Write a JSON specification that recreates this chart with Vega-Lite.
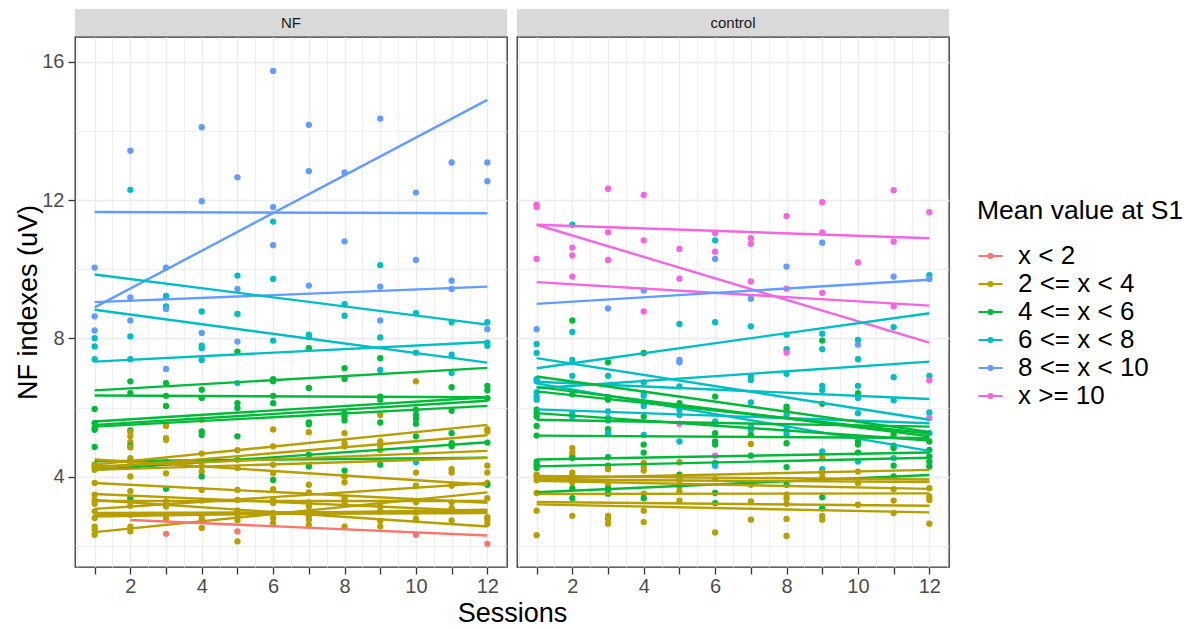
{
"$schema": "https://vega.github.io/schema/vega-lite/v6.json",
"background": "white",
"padding": {"left": 14, "top": 9, "right": 5, "bottom": 5},
"config": {"font": "Liberation Sans", "view": {"stroke": "#333333", "strokeWidth": 1.3, "fill": "white"}},
"datasets": {
"pts": [
{"p":"NF","s":1,"v":10.05,"g":"8 <= x < 10"},{"p":"NF","s":1,"v":8.64,"g":"8 <= x < 10"},{"p":"NF","s":1,"v":8.23,"g":"8 <= x < 10"},{"p":"NF","s":1,"v":8.01,"g":"6 <= x < 8"},{"p":"NF","s":1,"v":7.77,"g":"6 <= x < 8"},{"p":"NF","s":1,"v":7.4,"g":"6 <= x < 8"},{"p":"NF","s":1,"v":5.96,"g":"4 <= x < 6"},{"p":"NF","s":1,"v":5.55,"g":"4 <= x < 6"},{"p":"NF","s":1,"v":5.41,"g":"4 <= x < 6"},{"p":"NF","s":1,"v":5.36,"g":"4 <= x < 6"},{"p":"NF","s":1,"v":4.86,"g":"4 <= x < 6"},{"p":"NF","s":1,"v":4.28,"g":"4 <= x < 6"},{"p":"NF","s":1,"v":4.35,"g":"2 <= x < 4"},{"p":"NF","s":1,"v":4.2,"g":"2 <= x < 4"},{"p":"NF","s":1,"v":3.82,"g":"2 <= x < 4"},{"p":"NF","s":1,"v":3.48,"g":"2 <= x < 4"},{"p":"NF","s":1,"v":3.33,"g":"2 <= x < 4"},{"p":"NF","s":1,"v":3.22,"g":"2 <= x < 4"},{"p":"NF","s":1,"v":3.0,"g":"2 <= x < 4"},{"p":"NF","s":1,"v":2.81,"g":"2 <= x < 4"},{"p":"NF","s":1,"v":2.56,"g":"2 <= x < 4"},{"p":"NF","s":1,"v":2.47,"g":"2 <= x < 4"},{"p":"NF","s":1,"v":2.32,"g":"2 <= x < 4"},
{"p":"NF","s":2,"v":13.43,"g":"8 <= x < 10"},{"p":"NF","s":2,"v":12.3,"g":"6 <= x < 8"},{"p":"NF","s":2,"v":9.19,"g":"8 <= x < 10"},{"p":"NF","s":2,"v":8.52,"g":"8 <= x < 10"},{"p":"NF","s":2,"v":8.06,"g":"6 <= x < 8"},{"p":"NF","s":2,"v":7.4,"g":"6 <= x < 8"},{"p":"NF","s":2,"v":6.76,"g":"4 <= x < 6"},{"p":"NF","s":2,"v":6.42,"g":"4 <= x < 6"},{"p":"NF","s":2,"v":5.34,"g":"4 <= x < 6"},{"p":"NF","s":2,"v":5.3,"g":"2 <= x < 4"},{"p":"NF","s":2,"v":5.17,"g":"2 <= x < 4"},{"p":"NF","s":2,"v":5.0,"g":"2 <= x < 4"},{"p":"NF","s":2,"v":4.9,"g":"4 <= x < 6"},{"p":"NF","s":2,"v":4.85,"g":"2 <= x < 4"},{"p":"NF","s":2,"v":4.54,"g":"2 <= x < 4"},{"p":"NF","s":2,"v":4.4,"g":"2 <= x < 4"},{"p":"NF","s":2,"v":4.01,"g":"2 <= x < 4"},{"p":"NF","s":2,"v":3.58,"g":"2 <= x < 4"},{"p":"NF","s":2,"v":3.38,"g":"4 <= x < 6"},{"p":"NF","s":2,"v":3.16,"g":"2 <= x < 4"},{"p":"NF","s":2,"v":2.9,"g":"2 <= x < 4"},{"p":"NF","s":2,"v":2.56,"g":"2 <= x < 4"},{"p":"NF","s":2,"v":2.42,"g":"2 <= x < 4"},
{"p":"NF","s":3,"v":10.05,"g":"8 <= x < 10"},{"p":"NF","s":3,"v":9.23,"g":"6 <= x < 8"},{"p":"NF","s":3,"v":8.93,"g":"6 <= x < 8"},{"p":"NF","s":3,"v":8.85,"g":"8 <= x < 10"},{"p":"NF","s":3,"v":7.12,"g":"8 <= x < 10"},{"p":"NF","s":3,"v":6.71,"g":"4 <= x < 6"},{"p":"NF","s":3,"v":6.34,"g":"4 <= x < 6"},{"p":"NF","s":3,"v":6.05,"g":"4 <= x < 6"},{"p":"NF","s":3,"v":5.47,"g":"2 <= x < 4"},{"p":"NF","s":3,"v":5.12,"g":"2 <= x < 4"},{"p":"NF","s":3,"v":5.07,"g":"2 <= x < 4"},{"p":"NF","s":3,"v":4.44,"g":"2 <= x < 4"},{"p":"NF","s":3,"v":4.1,"g":"2 <= x < 4"},{"p":"NF","s":3,"v":3.65,"g":"4 <= x < 6"},{"p":"NF","s":3,"v":3.29,"g":"2 <= x < 4"},{"p":"NF","s":3,"v":3.14,"g":"2 <= x < 4"},{"p":"NF","s":3,"v":2.87,"g":"2 <= x < 4"},{"p":"NF","s":3,"v":2.78,"g":"2 <= x < 4"},{"p":"NF","s":3,"v":2.35,"g":"x < 2"},
{"p":"NF","s":4,"v":14.11,"g":"8 <= x < 10"},{"p":"NF","s":4,"v":11.97,"g":"8 <= x < 10"},{"p":"NF","s":4,"v":8.78,"g":"6 <= x < 8"},{"p":"NF","s":4,"v":8.16,"g":"8 <= x < 10"},{"p":"NF","s":4,"v":7.79,"g":"6 <= x < 8"},{"p":"NF","s":4,"v":7.72,"g":"6 <= x < 8"},{"p":"NF","s":4,"v":7.38,"g":"6 <= x < 8"},{"p":"NF","s":4,"v":6.52,"g":"4 <= x < 6"},{"p":"NF","s":4,"v":6.28,"g":"4 <= x < 6"},{"p":"NF","s":4,"v":5.65,"g":"2 <= x < 4"},{"p":"NF","s":4,"v":5.31,"g":"4 <= x < 6"},{"p":"NF","s":4,"v":5.21,"g":"4 <= x < 6"},{"p":"NF","s":4,"v":4.67,"g":"2 <= x < 4"},{"p":"NF","s":4,"v":4.31,"g":"2 <= x < 4"},{"p":"NF","s":4,"v":4.15,"g":"2 <= x < 4"},{"p":"NF","s":4,"v":4.01,"g":"4 <= x < 6"},{"p":"NF","s":4,"v":3.62,"g":"2 <= x < 4"},{"p":"NF","s":4,"v":3.31,"g":"2 <= x < 4"},{"p":"NF","s":4,"v":2.87,"g":"2 <= x < 4"},{"p":"NF","s":4,"v":2.76,"g":"2 <= x < 4"},{"p":"NF","s":4,"v":2.52,"g":"2 <= x < 4"},
{"p":"NF","s":5,"v":12.66,"g":"8 <= x < 10"},{"p":"NF","s":5,"v":9.82,"g":"6 <= x < 8"},{"p":"NF","s":5,"v":9.43,"g":"8 <= x < 10"},{"p":"NF","s":5,"v":8.71,"g":"6 <= x < 8"},{"p":"NF","s":5,"v":7.91,"g":"8 <= x < 10"},{"p":"NF","s":5,"v":7.62,"g":"4 <= x < 6"},{"p":"NF","s":5,"v":6.71,"g":"6 <= x < 8"},{"p":"NF","s":5,"v":6.13,"g":"4 <= x < 6"},{"p":"NF","s":5,"v":5.99,"g":"4 <= x < 6"},{"p":"NF","s":5,"v":5.17,"g":"4 <= x < 6"},{"p":"NF","s":5,"v":4.77,"g":"2 <= x < 4"},{"p":"NF","s":5,"v":4.49,"g":"2 <= x < 4"},{"p":"NF","s":5,"v":4.25,"g":"2 <= x < 4"},{"p":"NF","s":5,"v":3.62,"g":"2 <= x < 4"},{"p":"NF","s":5,"v":3.33,"g":"2 <= x < 4"},{"p":"NF","s":5,"v":3.03,"g":"2 <= x < 4"},{"p":"NF","s":5,"v":2.9,"g":"2 <= x < 4"},{"p":"NF","s":5,"v":2.74,"g":"2 <= x < 4"},{"p":"NF","s":5,"v":2.42,"g":"x < 2"},{"p":"NF","s":5,"v":2.13,"g":"2 <= x < 4"},
{"p":"NF","s":6,"v":15.74,"g":"8 <= x < 10"},{"p":"NF","s":6,"v":11.8,"g":"8 <= x < 10"},{"p":"NF","s":6,"v":11.38,"g":"6 <= x < 8"},{"p":"NF","s":6,"v":10.7,"g":"8 <= x < 10"},{"p":"NF","s":6,"v":9.72,"g":"6 <= x < 8"},{"p":"NF","s":6,"v":7.94,"g":"6 <= x < 8"},{"p":"NF","s":6,"v":6.82,"g":"4 <= x < 6"},{"p":"NF","s":6,"v":6.76,"g":"4 <= x < 6"},{"p":"NF","s":6,"v":6.34,"g":"4 <= x < 6"},{"p":"NF","s":6,"v":6.13,"g":"4 <= x < 6"},{"p":"NF","s":6,"v":5.37,"g":"2 <= x < 4"},{"p":"NF","s":6,"v":4.88,"g":"2 <= x < 4"},{"p":"NF","s":6,"v":4.35,"g":"2 <= x < 4"},{"p":"NF","s":6,"v":4.1,"g":"2 <= x < 4"},{"p":"NF","s":6,"v":3.91,"g":"4 <= x < 6"},{"p":"NF","s":6,"v":3.64,"g":"2 <= x < 4"},{"p":"NF","s":6,"v":3.33,"g":"2 <= x < 4"},{"p":"NF","s":6,"v":3.24,"g":"2 <= x < 4"},{"p":"NF","s":6,"v":2.95,"g":"2 <= x < 4"},{"p":"NF","s":6,"v":2.81,"g":"2 <= x < 4"},{"p":"NF","s":6,"v":2.66,"g":"2 <= x < 4"},
{"p":"NF","s":7,"v":14.18,"g":"8 <= x < 10"},{"p":"NF","s":7,"v":12.84,"g":"8 <= x < 10"},{"p":"NF","s":7,"v":9.53,"g":"8 <= x < 10"},{"p":"NF","s":7,"v":8.11,"g":"6 <= x < 8"},{"p":"NF","s":7,"v":8.04,"g":"6 <= x < 8"},{"p":"NF","s":7,"v":7.72,"g":"4 <= x < 6"},{"p":"NF","s":7,"v":6.57,"g":"4 <= x < 6"},{"p":"NF","s":7,"v":5.57,"g":"4 <= x < 6"},{"p":"NF","s":7,"v":5.52,"g":"4 <= x < 6"},{"p":"NF","s":7,"v":5.29,"g":"2 <= x < 4"},{"p":"NF","s":7,"v":4.64,"g":"4 <= x < 6"},{"p":"NF","s":7,"v":4.3,"g":"4 <= x < 6"},{"p":"NF","s":7,"v":3.77,"g":"2 <= x < 4"},{"p":"NF","s":7,"v":3.55,"g":"2 <= x < 4"},{"p":"NF","s":7,"v":3.26,"g":"2 <= x < 4"},{"p":"NF","s":7,"v":3.14,"g":"2 <= x < 4"},{"p":"NF","s":7,"v":3.0,"g":"2 <= x < 4"},{"p":"NF","s":7,"v":2.87,"g":"2 <= x < 4"},{"p":"NF","s":7,"v":2.76,"g":"2 <= x < 4"},{"p":"NF","s":7,"v":2.61,"g":"2 <= x < 4"},
{"p":"NF","s":8,"v":12.8,"g":"8 <= x < 10"},{"p":"NF","s":8,"v":10.81,"g":"8 <= x < 10"},{"p":"NF","s":8,"v":8.99,"g":"6 <= x < 8"},{"p":"NF","s":8,"v":8.66,"g":"6 <= x < 8"},{"p":"NF","s":8,"v":7.14,"g":"4 <= x < 6"},{"p":"NF","s":8,"v":6.83,"g":"4 <= x < 6"},{"p":"NF","s":8,"v":5.84,"g":"4 <= x < 6"},{"p":"NF","s":8,"v":5.74,"g":"4 <= x < 6"},{"p":"NF","s":8,"v":5.63,"g":"4 <= x < 6"},{"p":"NF","s":8,"v":5.26,"g":"2 <= x < 4"},{"p":"NF","s":8,"v":4.97,"g":"2 <= x < 4"},{"p":"NF","s":8,"v":4.88,"g":"2 <= x < 4"},{"p":"NF","s":8,"v":4.18,"g":"4 <= x < 6"},{"p":"NF","s":8,"v":4.01,"g":"2 <= x < 4"},{"p":"NF","s":8,"v":3.84,"g":"2 <= x < 4"},{"p":"NF","s":8,"v":3.38,"g":"2 <= x < 4"},{"p":"NF","s":8,"v":3.24,"g":"2 <= x < 4"},{"p":"NF","s":8,"v":2.56,"g":"2 <= x < 4"},
{"p":"NF","s":9,"v":14.36,"g":"8 <= x < 10"},{"p":"NF","s":9,"v":10.12,"g":"6 <= x < 8"},{"p":"NF","s":9,"v":9.5,"g":"8 <= x < 10"},{"p":"NF","s":9,"v":8.52,"g":"8 <= x < 10"},{"p":"NF","s":9,"v":8.03,"g":"6 <= x < 8"},{"p":"NF","s":9,"v":7.43,"g":"4 <= x < 6"},{"p":"NF","s":9,"v":7.09,"g":"6 <= x < 8"},{"p":"NF","s":9,"v":6.32,"g":"4 <= x < 6"},{"p":"NF","s":9,"v":6.23,"g":"4 <= x < 6"},{"p":"NF","s":9,"v":5.79,"g":"2 <= x < 4"},{"p":"NF","s":9,"v":5.57,"g":"4 <= x < 6"},{"p":"NF","s":9,"v":5.02,"g":"2 <= x < 4"},{"p":"NF","s":9,"v":4.9,"g":"2 <= x < 4"},{"p":"NF","s":9,"v":4.77,"g":"2 <= x < 4"},{"p":"NF","s":9,"v":4.35,"g":"4 <= x < 6"},{"p":"NF","s":9,"v":3.14,"g":"2 <= x < 4"},{"p":"NF","s":9,"v":3.0,"g":"2 <= x < 4"},{"p":"NF","s":9,"v":2.72,"g":"2 <= x < 4"},{"p":"NF","s":9,"v":2.56,"g":"2 <= x < 4"},
{"p":"NF","s":10,"v":12.22,"g":"8 <= x < 10"},{"p":"NF","s":10,"v":10.27,"g":"8 <= x < 10"},{"p":"NF","s":10,"v":8.73,"g":"6 <= x < 8"},{"p":"NF","s":10,"v":7.59,"g":"6 <= x < 8"},{"p":"NF","s":10,"v":6.76,"g":"2 <= x < 4"},{"p":"NF","s":10,"v":5.94,"g":"4 <= x < 6"},{"p":"NF","s":10,"v":5.79,"g":"4 <= x < 6"},{"p":"NF","s":10,"v":5.67,"g":"4 <= x < 6"},{"p":"NF","s":10,"v":5.53,"g":"4 <= x < 6"},{"p":"NF","s":10,"v":5.17,"g":"4 <= x < 6"},{"p":"NF","s":10,"v":4.77,"g":"4 <= x < 6"},{"p":"NF","s":10,"v":4.42,"g":"6 <= x < 8"},{"p":"NF","s":10,"v":4.12,"g":"2 <= x < 4"},{"p":"NF","s":10,"v":3.74,"g":"2 <= x < 4"},{"p":"NF","s":10,"v":3.26,"g":"2 <= x < 4"},{"p":"NF","s":10,"v":2.97,"g":"2 <= x < 4"},{"p":"NF","s":10,"v":2.78,"g":"2 <= x < 4"},{"p":"NF","s":10,"v":2.32,"g":"x < 2"},
{"p":"NF","s":11,"v":13.09,"g":"8 <= x < 10"},{"p":"NF","s":11,"v":9.67,"g":"8 <= x < 10"},{"p":"NF","s":11,"v":9.43,"g":"8 <= x < 10"},{"p":"NF","s":11,"v":8.47,"g":"6 <= x < 8"},{"p":"NF","s":11,"v":7.53,"g":"6 <= x < 8"},{"p":"NF","s":11,"v":7.0,"g":"6 <= x < 8"},{"p":"NF","s":11,"v":6.59,"g":"4 <= x < 6"},{"p":"NF","s":11,"v":5.91,"g":"4 <= x < 6"},{"p":"NF","s":11,"v":5.26,"g":"4 <= x < 6"},{"p":"NF","s":11,"v":4.97,"g":"4 <= x < 6"},{"p":"NF","s":11,"v":4.88,"g":"4 <= x < 6"},{"p":"NF","s":11,"v":4.22,"g":"2 <= x < 4"},{"p":"NF","s":11,"v":4.12,"g":"2 <= x < 4"},{"p":"NF","s":11,"v":3.74,"g":"2 <= x < 4"},{"p":"NF","s":11,"v":3.26,"g":"2 <= x < 4"},{"p":"NF","s":11,"v":3.09,"g":"2 <= x < 4"},{"p":"NF","s":11,"v":2.74,"g":"2 <= x < 4"},
{"p":"NF","s":12,"v":13.09,"g":"8 <= x < 10"},{"p":"NF","s":12,"v":12.55,"g":"8 <= x < 10"},{"p":"NF","s":12,"v":8.47,"g":"6 <= x < 8"},{"p":"NF","s":12,"v":8.27,"g":"8 <= x < 10"},{"p":"NF","s":12,"v":7.88,"g":"6 <= x < 8"},{"p":"NF","s":12,"v":7.79,"g":"6 <= x < 8"},{"p":"NF","s":12,"v":6.63,"g":"4 <= x < 6"},{"p":"NF","s":12,"v":6.5,"g":"4 <= x < 6"},{"p":"NF","s":12,"v":6.27,"g":"4 <= x < 6"},{"p":"NF","s":12,"v":5.38,"g":"2 <= x < 4"},{"p":"NF","s":12,"v":5.31,"g":"2 <= x < 4"},{"p":"NF","s":12,"v":4.99,"g":"4 <= x < 6"},{"p":"NF","s":12,"v":4.32,"g":"2 <= x < 4"},{"p":"NF","s":12,"v":4.12,"g":"2 <= x < 4"},{"p":"NF","s":12,"v":3.82,"g":"2 <= x < 4"},{"p":"NF","s":12,"v":3.77,"g":"4 <= x < 6"},{"p":"NF","s":12,"v":3.38,"g":"2 <= x < 4"},{"p":"NF","s":12,"v":2.83,"g":"2 <= x < 4"},{"p":"NF","s":12,"v":2.76,"g":"2 <= x < 4"},{"p":"NF","s":12,"v":2.64,"g":"2 <= x < 4"},{"p":"NF","s":12,"v":2.06,"g":"x < 2"},
{"p":"control","s":1,"v":11.87,"g":"x >= 10"},{"p":"control","s":1,"v":11.8,"g":"x >= 10"},{"p":"control","s":1,"v":10.3,"g":"x >= 10"},{"p":"control","s":1,"v":8.27,"g":"8 <= x < 10"},{"p":"control","s":1,"v":7.84,"g":"6 <= x < 8"},{"p":"control","s":1,"v":7.58,"g":"6 <= x < 8"},{"p":"control","s":1,"v":6.82,"g":"6 <= x < 8"},{"p":"control","s":1,"v":6.76,"g":"6 <= x < 8"},{"p":"control","s":1,"v":6.44,"g":"6 <= x < 8"},{"p":"control","s":1,"v":6.32,"g":"6 <= x < 8"},{"p":"control","s":1,"v":6.23,"g":"6 <= x < 8"},{"p":"control","s":1,"v":5.94,"g":"4 <= x < 6"},{"p":"control","s":1,"v":5.84,"g":"4 <= x < 6"},{"p":"control","s":1,"v":5.74,"g":"4 <= x < 6"},{"p":"control","s":1,"v":5.47,"g":"4 <= x < 6"},{"p":"control","s":1,"v":5.19,"g":"4 <= x < 6"},{"p":"control","s":1,"v":4.44,"g":"4 <= x < 6"},{"p":"control","s":1,"v":4.35,"g":"4 <= x < 6"},{"p":"control","s":1,"v":4.25,"g":"4 <= x < 6"},{"p":"control","s":1,"v":4.06,"g":"2 <= x < 4"},{"p":"control","s":1,"v":4.0,"g":"2 <= x < 4"},{"p":"control","s":1,"v":3.9,"g":"2 <= x < 4"},{"p":"control","s":1,"v":3.53,"g":"2 <= x < 4"},{"p":"control","s":1,"v":3.02,"g":"2 <= x < 4"},{"p":"control","s":1,"v":2.31,"g":"2 <= x < 4"},
{"p":"control","s":2,"v":11.29,"g":"6 <= x < 8"},{"p":"control","s":2,"v":10.63,"g":"x >= 10"},{"p":"control","s":2,"v":10.4,"g":"x >= 10"},{"p":"control","s":2,"v":9.79,"g":"x >= 10"},{"p":"control","s":2,"v":8.52,"g":"4 <= x < 6"},{"p":"control","s":2,"v":8.19,"g":"6 <= x < 8"},{"p":"control","s":2,"v":7.38,"g":"6 <= x < 8"},{"p":"control","s":2,"v":6.92,"g":"6 <= x < 8"},{"p":"control","s":2,"v":6.39,"g":"4 <= x < 6"},{"p":"control","s":2,"v":5.84,"g":"6 <= x < 8"},{"p":"control","s":2,"v":5.73,"g":"6 <= x < 8"},{"p":"control","s":2,"v":4.83,"g":"2 <= x < 4"},{"p":"control","s":2,"v":4.7,"g":"2 <= x < 4"},{"p":"control","s":2,"v":4.6,"g":"2 <= x < 4"},{"p":"control","s":2,"v":4.54,"g":"4 <= x < 6"},{"p":"control","s":2,"v":4.12,"g":"2 <= x < 4"},{"p":"control","s":2,"v":4.03,"g":"2 <= x < 4"},{"p":"control","s":2,"v":3.84,"g":"2 <= x < 4"},{"p":"control","s":2,"v":3.67,"g":"4 <= x < 6"},{"p":"control","s":2,"v":3.38,"g":"4 <= x < 6"},{"p":"control","s":2,"v":2.87,"g":"2 <= x < 4"},
{"p":"control","s":3,"v":12.33,"g":"x >= 10"},{"p":"control","s":3,"v":11.07,"g":"x >= 10"},{"p":"control","s":3,"v":10.27,"g":"x >= 10"},{"p":"control","s":3,"v":8.87,"g":"8 <= x < 10"},{"p":"control","s":3,"v":7.31,"g":"4 <= x < 6"},{"p":"control","s":3,"v":6.92,"g":"6 <= x < 8"},{"p":"control","s":3,"v":6.3,"g":"4 <= x < 6"},{"p":"control","s":3,"v":6.23,"g":"4 <= x < 6"},{"p":"control","s":3,"v":5.89,"g":"6 <= x < 8"},{"p":"control","s":3,"v":5.7,"g":"6 <= x < 8"},{"p":"control","s":3,"v":5.63,"g":"6 <= x < 8"},{"p":"control","s":3,"v":5.38,"g":"4 <= x < 6"},{"p":"control","s":3,"v":5.26,"g":"6 <= x < 8"},{"p":"control","s":3,"v":4.57,"g":"4 <= x < 6"},{"p":"control","s":3,"v":4.32,"g":"4 <= x < 6"},{"p":"control","s":3,"v":4.22,"g":"2 <= x < 4"},{"p":"control","s":3,"v":3.74,"g":"2 <= x < 4"},{"p":"control","s":3,"v":3.64,"g":"4 <= x < 6"},{"p":"control","s":3,"v":3.51,"g":"4 <= x < 6"},{"p":"control","s":3,"v":2.87,"g":"2 <= x < 4"},{"p":"control","s":3,"v":2.78,"g":"2 <= x < 4"},{"p":"control","s":3,"v":2.64,"g":"2 <= x < 4"},
{"p":"control","s":4,"v":12.15,"g":"x >= 10"},{"p":"control","s":4,"v":10.84,"g":"x >= 10"},{"p":"control","s":4,"v":9.39,"g":"8 <= x < 10"},{"p":"control","s":4,"v":8.78,"g":"x >= 10"},{"p":"control","s":4,"v":7.58,"g":"4 <= x < 6"},{"p":"control","s":4,"v":6.73,"g":"6 <= x < 8"},{"p":"control","s":4,"v":6.42,"g":"6 <= x < 8"},{"p":"control","s":4,"v":6.34,"g":"6 <= x < 8"},{"p":"control","s":4,"v":6.05,"g":"6 <= x < 8"},{"p":"control","s":4,"v":5.74,"g":"4 <= x < 6"},{"p":"control","s":4,"v":5.21,"g":"6 <= x < 8"},{"p":"control","s":4,"v":4.93,"g":"4 <= x < 6"},{"p":"control","s":4,"v":4.7,"g":"4 <= x < 6"},{"p":"control","s":4,"v":4.4,"g":"2 <= x < 4"},{"p":"control","s":4,"v":4.28,"g":"2 <= x < 4"},{"p":"control","s":4,"v":4.18,"g":"2 <= x < 4"},{"p":"control","s":4,"v":3.51,"g":"2 <= x < 4"},{"p":"control","s":4,"v":3.38,"g":"4 <= x < 6"},{"p":"control","s":4,"v":3.02,"g":"2 <= x < 4"},{"p":"control","s":4,"v":2.69,"g":"2 <= x < 4"},
{"p":"control","s":5,"v":10.59,"g":"x >= 10"},{"p":"control","s":5,"v":9.73,"g":"x >= 10"},{"p":"control","s":5,"v":8.42,"g":"6 <= x < 8"},{"p":"control","s":5,"v":7.38,"g":"8 <= x < 10"},{"p":"control","s":5,"v":7.31,"g":"8 <= x < 10"},{"p":"control","s":5,"v":6.61,"g":"6 <= x < 8"},{"p":"control","s":5,"v":6.13,"g":"4 <= x < 6"},{"p":"control","s":5,"v":5.94,"g":"6 <= x < 8"},{"p":"control","s":5,"v":5.79,"g":"6 <= x < 8"},{"p":"control","s":5,"v":5.53,"g":"x >= 10"},{"p":"control","s":5,"v":5.02,"g":"6 <= x < 8"},{"p":"control","s":5,"v":4.42,"g":"2 <= x < 4"},{"p":"control","s":5,"v":4.06,"g":"4 <= x < 6"},{"p":"control","s":5,"v":3.96,"g":"4 <= x < 6"},{"p":"control","s":5,"v":3.9,"g":"2 <= x < 4"},{"p":"control","s":5,"v":3.72,"g":"2 <= x < 4"},{"p":"control","s":5,"v":3.58,"g":"2 <= x < 4"},{"p":"control","s":5,"v":3.31,"g":"2 <= x < 4"},
{"p":"control","s":6,"v":11.05,"g":"x >= 10"},{"p":"control","s":6,"v":10.84,"g":"6 <= x < 8"},{"p":"control","s":6,"v":10.51,"g":"x >= 10"},{"p":"control","s":6,"v":10.3,"g":"8 <= x < 10"},{"p":"control","s":6,"v":8.47,"g":"6 <= x < 8"},{"p":"control","s":6,"v":6.32,"g":"4 <= x < 6"},{"p":"control","s":6,"v":5.6,"g":"6 <= x < 8"},{"p":"control","s":6,"v":5.53,"g":"6 <= x < 8"},{"p":"control","s":6,"v":5.26,"g":"4 <= x < 6"},{"p":"control","s":6,"v":5.02,"g":"4 <= x < 6"},{"p":"control","s":6,"v":4.93,"g":"4 <= x < 6"},{"p":"control","s":6,"v":4.61,"g":"x >= 10"},{"p":"control","s":6,"v":4.4,"g":"6 <= x < 8"},{"p":"control","s":6,"v":4.32,"g":"6 <= x < 8"},{"p":"control","s":6,"v":3.93,"g":"2 <= x < 4"},{"p":"control","s":6,"v":3.53,"g":"4 <= x < 6"},{"p":"control","s":6,"v":3.24,"g":"4 <= x < 6"},{"p":"control","s":6,"v":2.39,"g":"2 <= x < 4"},
{"p":"control","s":7,"v":10.9,"g":"x >= 10"},{"p":"control","s":7,"v":10.74,"g":"x >= 10"},{"p":"control","s":7,"v":9.65,"g":"x >= 10"},{"p":"control","s":7,"v":9.15,"g":"8 <= x < 10"},{"p":"control","s":7,"v":8.35,"g":"6 <= x < 8"},{"p":"control","s":7,"v":6.92,"g":"6 <= x < 8"},{"p":"control","s":7,"v":6.8,"g":"6 <= x < 8"},{"p":"control","s":7,"v":6.15,"g":"6 <= x < 8"},{"p":"control","s":7,"v":5.45,"g":"6 <= x < 8"},{"p":"control","s":7,"v":5.36,"g":"6 <= x < 8"},{"p":"control","s":7,"v":5.21,"g":"4 <= x < 6"},{"p":"control","s":7,"v":4.95,"g":"2 <= x < 4"},{"p":"control","s":7,"v":4.61,"g":"4 <= x < 6"},{"p":"control","s":7,"v":3.77,"g":"2 <= x < 4"},{"p":"control","s":7,"v":3.29,"g":"2 <= x < 4"},{"p":"control","s":7,"v":2.76,"g":"2 <= x < 4"},
{"p":"control","s":8,"v":11.54,"g":"x >= 10"},{"p":"control","s":8,"v":10.08,"g":"8 <= x < 10"},{"p":"control","s":8,"v":9.44,"g":"x >= 10"},{"p":"control","s":8,"v":8.11,"g":"6 <= x < 8"},{"p":"control","s":8,"v":7.69,"g":"6 <= x < 8"},{"p":"control","s":8,"v":7.59,"g":"x >= 10"},{"p":"control","s":8,"v":6.98,"g":"6 <= x < 8"},{"p":"control","s":8,"v":6.03,"g":"4 <= x < 6"},{"p":"control","s":8,"v":5.94,"g":"4 <= x < 6"},{"p":"control","s":8,"v":5.79,"g":"6 <= x < 8"},{"p":"control","s":8,"v":5.36,"g":"6 <= x < 8"},{"p":"control","s":8,"v":5.23,"g":"6 <= x < 8"},{"p":"control","s":8,"v":4.97,"g":"4 <= x < 6"},{"p":"control","s":8,"v":4.28,"g":"4 <= x < 6"},{"p":"control","s":8,"v":3.77,"g":"4 <= x < 6"},{"p":"control","s":8,"v":3.48,"g":"2 <= x < 4"},{"p":"control","s":8,"v":3.38,"g":"2 <= x < 4"},{"p":"control","s":8,"v":3.22,"g":"2 <= x < 4"},{"p":"control","s":8,"v":2.78,"g":"2 <= x < 4"},{"p":"control","s":8,"v":2.29,"g":"2 <= x < 4"},
{"p":"control","s":9,"v":11.94,"g":"x >= 10"},{"p":"control","s":9,"v":11.07,"g":"x >= 10"},{"p":"control","s":9,"v":10.77,"g":"8 <= x < 10"},{"p":"control","s":9,"v":9.32,"g":"x >= 10"},{"p":"control","s":9,"v":8.14,"g":"6 <= x < 8"},{"p":"control","s":9,"v":7.94,"g":"4 <= x < 6"},{"p":"control","s":9,"v":7.69,"g":"6 <= x < 8"},{"p":"control","s":9,"v":6.63,"g":"6 <= x < 8"},{"p":"control","s":9,"v":6.5,"g":"6 <= x < 8"},{"p":"control","s":9,"v":6.11,"g":"4 <= x < 6"},{"p":"control","s":9,"v":4.73,"g":"6 <= x < 8"},{"p":"control","s":9,"v":4.54,"g":"2 <= x < 4"},{"p":"control","s":9,"v":4.22,"g":"6 <= x < 8"},{"p":"control","s":9,"v":4.12,"g":"2 <= x < 4"},{"p":"control","s":9,"v":3.99,"g":"2 <= x < 4"},{"p":"control","s":9,"v":3.41,"g":"4 <= x < 6"},{"p":"control","s":9,"v":3.09,"g":"4 <= x < 6"},{"p":"control","s":9,"v":2.87,"g":"2 <= x < 4"},{"p":"control","s":9,"v":2.76,"g":"2 <= x < 4"},
{"p":"control","s":10,"v":10.2,"g":"x >= 10"},{"p":"control","s":10,"v":7.96,"g":"6 <= x < 8"},{"p":"control","s":10,"v":7.82,"g":"8 <= x < 10"},{"p":"control","s":10,"v":7.4,"g":"6 <= x < 8"},{"p":"control","s":10,"v":6.63,"g":"6 <= x < 8"},{"p":"control","s":10,"v":6.42,"g":"4 <= x < 6"},{"p":"control","s":10,"v":6.28,"g":"6 <= x < 8"},{"p":"control","s":10,"v":5.84,"g":"6 <= x < 8"},{"p":"control","s":10,"v":5.02,"g":"4 <= x < 6"},{"p":"control","s":10,"v":4.93,"g":"4 <= x < 6"},{"p":"control","s":10,"v":4.7,"g":"4 <= x < 6"},{"p":"control","s":10,"v":4.44,"g":"6 <= x < 8"},{"p":"control","s":10,"v":4.15,"g":"2 <= x < 4"},{"p":"control","s":10,"v":3.82,"g":"2 <= x < 4"},{"p":"control","s":10,"v":3.19,"g":"2 <= x < 4"},
{"p":"control","s":11,"v":12.29,"g":"x >= 10"},{"p":"control","s":11,"v":10.8,"g":"x >= 10"},{"p":"control","s":11,"v":9.79,"g":"8 <= x < 10"},{"p":"control","s":11,"v":8.93,"g":"x >= 10"},{"p":"control","s":11,"v":8.33,"g":"6 <= x < 8"},{"p":"control","s":11,"v":6.88,"g":"6 <= x < 8"},{"p":"control","s":11,"v":6.21,"g":"6 <= x < 8"},{"p":"control","s":11,"v":5.21,"g":"4 <= x < 6"},{"p":"control","s":11,"v":4.9,"g":"4 <= x < 6"},{"p":"control","s":11,"v":4.83,"g":"4 <= x < 6"},{"p":"control","s":11,"v":4.54,"g":"6 <= x < 8"},{"p":"control","s":11,"v":4.32,"g":"4 <= x < 6"},{"p":"control","s":11,"v":4.01,"g":"4 <= x < 6"},{"p":"control","s":11,"v":3.64,"g":"2 <= x < 4"},{"p":"control","s":11,"v":3.31,"g":"2 <= x < 4"},{"p":"control","s":11,"v":2.95,"g":"2 <= x < 4"},
{"p":"control","s":12,"v":11.65,"g":"x >= 10"},{"p":"control","s":12,"v":9.83,"g":"6 <= x < 8"},{"p":"control","s":12,"v":9.72,"g":"8 <= x < 10"},{"p":"control","s":12,"v":6.92,"g":"6 <= x < 8"},{"p":"control","s":12,"v":6.79,"g":"x >= 10"},{"p":"control","s":12,"v":5.86,"g":"6 <= x < 8"},{"p":"control","s":12,"v":5.7,"g":"x >= 10"},{"p":"control","s":12,"v":5.26,"g":"6 <= x < 8"},{"p":"control","s":12,"v":5.02,"g":"4 <= x < 6"},{"p":"control","s":12,"v":4.78,"g":"4 <= x < 6"},{"p":"control","s":12,"v":4.59,"g":"4 <= x < 6"},{"p":"control","s":12,"v":4.44,"g":"4 <= x < 6"},{"p":"control","s":12,"v":4.3,"g":"4 <= x < 6"},{"p":"control","s":12,"v":3.67,"g":"2 <= x < 4"},{"p":"control","s":12,"v":3.43,"g":"2 <= x < 4"},{"p":"control","s":12,"v":3.33,"g":"2 <= x < 4"},{"p":"control","s":12,"v":2.64,"g":"2 <= x < 4"}
],
"fits": [
{"p":"NF","id":"n1","g":"8 <= x < 10","s":1,"v":8.9},{"p":"NF","id":"n1","g":"8 <= x < 10","s":12,"v":14.9},
{"p":"NF","id":"n2","g":"8 <= x < 10","s":1,"v":11.66},{"p":"NF","id":"n2","g":"8 <= x < 10","s":12,"v":11.62},
{"p":"NF","id":"n3","g":"8 <= x < 10","s":1,"v":9.05},{"p":"NF","id":"n3","g":"8 <= x < 10","s":12,"v":9.5},
{"p":"NF","id":"n4","g":"6 <= x < 8","s":1,"v":9.85},{"p":"NF","id":"n4","g":"6 <= x < 8","s":12,"v":8.4},
{"p":"NF","id":"n5","g":"6 <= x < 8","s":1,"v":8.83},{"p":"NF","id":"n5","g":"6 <= x < 8","s":12,"v":7.3},
{"p":"NF","id":"n6","g":"6 <= x < 8","s":1,"v":7.33},{"p":"NF","id":"n6","g":"6 <= x < 8","s":12,"v":7.9},
{"p":"NF","id":"n7","g":"4 <= x < 6","s":1,"v":6.5},{"p":"NF","id":"n7","g":"4 <= x < 6","s":12,"v":7.15},
{"p":"NF","id":"n8","g":"4 <= x < 6","s":1,"v":6.35},{"p":"NF","id":"n8","g":"4 <= x < 6","s":12,"v":6.3},
{"p":"NF","id":"n9","g":"4 <= x < 6","s":1,"v":5.6},{"p":"NF","id":"n9","g":"4 <= x < 6","s":12,"v":6.3},
{"p":"NF","id":"n10","g":"4 <= x < 6","s":1,"v":5.5},{"p":"NF","id":"n10","g":"4 <= x < 6","s":12,"v":6.2},
{"p":"NF","id":"n11","g":"4 <= x < 6","s":1,"v":5.45},{"p":"NF","id":"n11","g":"4 <= x < 6","s":12,"v":6.05},
{"p":"NF","id":"n12","g":"4 <= x < 6","s":1,"v":4.2},{"p":"NF","id":"n12","g":"4 <= x < 6","s":12,"v":5.0},
{"p":"NF","id":"n13","g":"4 <= x < 6","s":1,"v":4.45},{"p":"NF","id":"n13","g":"4 <= x < 6","s":12,"v":4.55},
{"p":"NF","id":"n14","g":"2 <= x < 4","s":1,"v":4.35},{"p":"NF","id":"n14","g":"2 <= x < 4","s":12,"v":5.5},
{"p":"NF","id":"n15","g":"2 <= x < 4","s":1,"v":4.25},{"p":"NF","id":"n15","g":"2 <= x < 4","s":12,"v":5.2},
{"p":"NF","id":"n16","g":"2 <= x < 4","s":1,"v":4.3},{"p":"NF","id":"n16","g":"2 <= x < 4","s":12,"v":4.75},
{"p":"NF","id":"n17","g":"2 <= x < 4","s":1,"v":4.2},{"p":"NF","id":"n17","g":"2 <= x < 4","s":12,"v":4.55},
{"p":"NF","id":"n18","g":"2 <= x < 4","s":1,"v":4.5},{"p":"NF","id":"n18","g":"2 <= x < 4","s":12,"v":3.77},
{"p":"NF","id":"n19","g":"2 <= x < 4","s":1,"v":3.82},{"p":"NF","id":"n19","g":"2 <= x < 4","s":12,"v":3.25},
{"p":"NF","id":"n20","g":"2 <= x < 4","s":1,"v":3.07},{"p":"NF","id":"n20","g":"2 <= x < 4","s":12,"v":3.82},
{"p":"NF","id":"n21","g":"2 <= x < 4","s":1,"v":3.3},{"p":"NF","id":"n21","g":"2 <= x < 4","s":12,"v":3.3},
{"p":"NF","id":"n22","g":"2 <= x < 4","s":1,"v":2.95},{"p":"NF","id":"n22","g":"2 <= x < 4","s":12,"v":3.0},
{"p":"NF","id":"n23","g":"2 <= x < 4","s":1,"v":2.9},{"p":"NF","id":"n23","g":"2 <= x < 4","s":12,"v":2.95},
{"p":"NF","id":"n24","g":"2 <= x < 4","s":1,"v":2.85},{"p":"NF","id":"n24","g":"2 <= x < 4","s":12,"v":3.05},
{"p":"NF","id":"n25","g":"2 <= x < 4","s":1,"v":3.33},{"p":"NF","id":"n25","g":"2 <= x < 4","s":12,"v":2.56},
{"p":"NF","id":"n26","g":"2 <= x < 4","s":1,"v":2.4},{"p":"NF","id":"n26","g":"2 <= x < 4","s":12,"v":3.55},
{"p":"NF","id":"n27","g":"2 <= x < 4","s":1,"v":3.5},{"p":"NF","id":"n27","g":"2 <= x < 4","s":12,"v":3.0},
{"p":"NF","id":"n28","g":"x < 2","s":2,"v":2.75},{"p":"NF","id":"n28","g":"x < 2","s":12,"v":2.3},
{"p":"control","id":"c1","g":"x >= 10","s":1,"v":11.29},{"p":"control","id":"c1","g":"x >= 10","s":12,"v":10.9},
{"p":"control","id":"c2","g":"x >= 10","s":1,"v":11.29},{"p":"control","id":"c2","g":"x >= 10","s":12,"v":7.88},
{"p":"control","id":"c3","g":"x >= 10","s":1,"v":9.63},{"p":"control","id":"c3","g":"x >= 10","s":12,"v":8.95},
{"p":"control","id":"c4","g":"8 <= x < 10","s":1,"v":9.0},{"p":"control","id":"c4","g":"8 <= x < 10","s":12,"v":9.7},
{"p":"control","id":"c5","g":"6 <= x < 8","s":1,"v":7.14},{"p":"control","id":"c5","g":"6 <= x < 8","s":12,"v":8.73},
{"p":"control","id":"c6","g":"6 <= x < 8","s":1,"v":7.43},{"p":"control","id":"c6","g":"6 <= x < 8","s":12,"v":5.65},
{"p":"control","id":"c7","g":"6 <= x < 8","s":1,"v":6.56},{"p":"control","id":"c7","g":"6 <= x < 8","s":12,"v":7.33},
{"p":"control","id":"c8","g":"6 <= x < 8","s":1,"v":6.75},{"p":"control","id":"c8","g":"6 <= x < 8","s":12,"v":6.25},
{"p":"control","id":"c9","g":"6 <= x < 8","s":1,"v":6.7},{"p":"control","id":"c9","g":"6 <= x < 8","s":12,"v":4.75},
{"p":"control","id":"c10","g":"6 <= x < 8","s":1,"v":5.95},{"p":"control","id":"c10","g":"6 <= x < 8","s":12,"v":5.55},
{"p":"control","id":"c11","g":"4 <= x < 6","s":1,"v":6.9},{"p":"control","id":"c11","g":"4 <= x < 6","s":12,"v":5.3},
{"p":"control","id":"c12","g":"4 <= x < 6","s":1,"v":6.6},{"p":"control","id":"c12","g":"4 <= x < 6","s":12,"v":5.17},
{"p":"control","id":"c13","g":"4 <= x < 6","s":1,"v":6.47},{"p":"control","id":"c13","g":"4 <= x < 6","s":12,"v":5.25},
{"p":"control","id":"c14","g":"4 <= x < 6","s":1,"v":5.84},{"p":"control","id":"c14","g":"4 <= x < 6","s":12,"v":5.05},
{"p":"control","id":"c15","g":"4 <= x < 6","s":1,"v":5.65},{"p":"control","id":"c15","g":"4 <= x < 6","s":12,"v":5.45},
{"p":"control","id":"c16","g":"4 <= x < 6","s":1,"v":5.19},{"p":"control","id":"c16","g":"4 <= x < 6","s":12,"v":5.12},
{"p":"control","id":"c17","g":"4 <= x < 6","s":1,"v":4.5},{"p":"control","id":"c17","g":"4 <= x < 6","s":12,"v":4.7},
{"p":"control","id":"c18","g":"4 <= x < 6","s":1,"v":4.3},{"p":"control","id":"c18","g":"4 <= x < 6","s":12,"v":4.55},
{"p":"control","id":"c19","g":"4 <= x < 6","s":1,"v":3.55},{"p":"control","id":"c19","g":"4 <= x < 6","s":12,"v":4.05},
{"p":"control","id":"c20","g":"2 <= x < 4","s":1,"v":3.95},{"p":"control","id":"c20","g":"2 <= x < 4","s":12,"v":4.2},
{"p":"control","id":"c21","g":"2 <= x < 4","s":1,"v":4.02},{"p":"control","id":"c21","g":"2 <= x < 4","s":12,"v":3.92},
{"p":"control","id":"c22","g":"2 <= x < 4","s":1,"v":3.92},{"p":"control","id":"c22","g":"2 <= x < 4","s":12,"v":3.85},
{"p":"control","id":"c23","g":"2 <= x < 4","s":1,"v":3.88},{"p":"control","id":"c23","g":"2 <= x < 4","s":12,"v":3.65},
{"p":"control","id":"c24","g":"2 <= x < 4","s":1,"v":3.5},{"p":"control","id":"c24","g":"2 <= x < 4","s":12,"v":3.52},
{"p":"control","id":"c25","g":"2 <= x < 4","s":1,"v":3.27},{"p":"control","id":"c25","g":"2 <= x < 4","s":12,"v":3.16},
{"p":"control","id":"c26","g":"2 <= x < 4","s":1,"v":3.2},{"p":"control","id":"c26","g":"2 <= x < 4","s":12,"v":2.97}
]
},
"columns": 2,
"bounds": "flush",
"spacing": {"row": 0, "column": 10},
"resolve": {"scale": {"color": "shared"}},
"concat": [
 {"width": 432, "height": 28, "view": {"fill": "#d9d9d9"}, "data": {"values": [{"lab": "NF"}]}, "mark": {"type": "text", "fontSize": 15, "color": "#1a1a1a"}, "encoding": {"text": {"field": "lab"}}},
 {"width": 432, "height": 28, "view": {"fill": "#d9d9d9"}, "data": {"values": [{"lab": "control"}]}, "mark": {"type": "text", "fontSize": 15, "color": "#1a1a1a"}, "encoding": {"text": {"field": "lab"}}},
 {"width": 432, "height": 530,
  "encoding": {
   "x": {"field": "s", "type": "quantitative", "scale": {"domain": [0.45, 12.55], "nice": false, "zero": false},
     "axis": {"values": [0.5,1,1.5,2,2.5,3,3.5,4,4.5,5,5.5,6,6.5,7,7.5,8,8.5,9,9.5,10,10.5,11,11.5,12,12.5], "title": "Sessions", "titleX": 437, "titleAlign": "center", "titleFontSize": 27, "titleFontWeight": "normal", "titleColor": "black", "titlePadding": 4, "labelExpr": "datum.value % 2 == 0 ? format(datum.value, 'd') : ''", "labelFontSize": 20, "labelColor": "#4d4d4d", "labelPadding": 2, "labelOverlap": false, "labelFlush": false, "tickSize": 7, "tickColor": "#333333", "tickWidth": 1.3, "tickOpacity": {"condition": {"test": "datum.value % 1 != 0", "value": 0}, "value": 1}, "grid": true, "gridColor": "#ebebeb", "gridWidth": {"condition": {"test": "datum.value % 1 != 0", "value": 0.8}, "value": 1.3}, "domain": false}},
   "y": {"field": "v", "type": "quantitative", "scale": {"domain": [1.39, 16.72], "nice": false, "zero": false},
     "axis": {"values": [2,4,6,8,10,12,14,16], "title": "NF indexes (uV)", "titleFontSize": 27, "titleFontWeight": "normal", "titleColor": "black", "titlePadding": -1, "labelExpr": "datum.value % 4 == 0 ? format(datum.value, 'd') : ''", "labelFontSize": 20, "labelColor": "#4d4d4d", "labelPadding": 4, "labelOverlap": false, "labelFlush": false, "tickSize": 7, "tickColor": "#333333", "tickWidth": 1.3, "tickOpacity": {"condition": {"test": "datum.value % 4 != 0", "value": 0}, "value": 1}, "grid": true, "gridColor": "#ebebeb", "gridWidth": {"condition": {"test": "datum.value % 4 != 0", "value": 0.8}, "value": 1.3}, "domain": false}},
   "color": {"field": "g", "type": "nominal", "scale": {"domain": ["x < 2","2 <= x < 4","4 <= x < 6","6 <= x < 8","8 <= x < 10","x >= 10"], "range": ["#F8766D","#B79F00","#00BA38","#00BFC4","#619CFF","#F564E3"]},
     "legend": {"orient": "none", "legendX": 902, "legendY": 189, "title": "Mean value at S1", "titleLimit": 400, "labelLimit": 300, "titleFontSize": 26.5, "titleFontWeight": "normal", "titleColor": "black", "titlePadding": 18, "labelFontSize": 26, "labelColor": "black", "labelOffset": 14, "symbolType": "M-1,0L1,0M0.18,0L0.127,0.127L0,0.18L-0.127,0.127L-0.18,0L-0.127,-0.127L0,-0.18L0.127,-0.127Z", "symbolSize": 576, "symbolStrokeWidth": 2.2, "rowPadding": 1, "encode": {"symbols": {"update": {"fill": {"scale": "color", "field": "value"}, "stroke": {"scale": "color", "field": "value"}, "opacity": {"value": 1}}}}}}
  },
  "layer": [
   {"data": {"name": "pts"}, "transform": [{"filter": "datum.p == 'NF'"}], "mark": {"type": "circle", "size": 40, "opacity": 1}},
   {"data": {"name": "fits"}, "transform": [{"filter": "datum.p == 'NF'"}], "mark": {"type": "line", "strokeWidth": 2.4}, "encoding": {"detail": {"field": "id"}}}
  ]
 },
 {"width": 432, "height": 530,
  "encoding": {
   "x": {"field": "s", "type": "quantitative", "scale": {"domain": [0.45, 12.55], "nice": false, "zero": false},
     "axis": {"values": [0.5,1,1.5,2,2.5,3,3.5,4,4.5,5,5.5,6,6.5,7,7.5,8,8.5,9,9.5,10,10.5,11,11.5,12,12.5], "title": null, "labelExpr": "datum.value % 2 == 0 ? format(datum.value, 'd') : ''", "labelFontSize": 20, "labelColor": "#4d4d4d", "labelPadding": 2, "labelOverlap": false, "labelFlush": false, "tickSize": 7, "tickColor": "#333333", "tickWidth": 1.3, "tickOpacity": {"condition": {"test": "datum.value % 1 != 0", "value": 0}, "value": 1}, "grid": true, "gridColor": "#ebebeb", "gridWidth": {"condition": {"test": "datum.value % 1 != 0", "value": 0.8}, "value": 1.3}, "domain": false}},
   "y": {"field": "v", "type": "quantitative", "scale": {"domain": [1.39, 16.72], "nice": false, "zero": false},
     "axis": {"values": [2,4,6,8,10,12,14,16], "title": null, "labels": false, "ticks": false, "grid": true, "gridColor": "#ebebeb", "gridWidth": {"condition": {"test": "datum.value % 4 != 0", "value": 0.8}, "value": 1.3}, "domain": false}},
   "color": {"field": "g", "type": "nominal", "scale": {"domain": ["x < 2","2 <= x < 4","4 <= x < 6","6 <= x < 8","8 <= x < 10","x >= 10"], "range": ["#F8766D","#B79F00","#00BA38","#00BFC4","#619CFF","#F564E3"]},
     "legend": {"orient": "none", "legendX": 902, "legendY": 189, "title": "Mean value at S1", "titleLimit": 400, "labelLimit": 300, "titleFontSize": 26.5, "titleFontWeight": "normal", "titleColor": "black", "titlePadding": 18, "labelFontSize": 26, "labelColor": "black", "labelOffset": 14, "symbolType": "M-1,0L1,0M0.18,0L0.127,0.127L0,0.18L-0.127,0.127L-0.18,0L-0.127,-0.127L0,-0.18L0.127,-0.127Z", "symbolSize": 576, "symbolStrokeWidth": 2.2, "rowPadding": 1, "encode": {"symbols": {"update": {"fill": {"scale": "color", "field": "value"}, "stroke": {"scale": "color", "field": "value"}, "opacity": {"value": 1}}}}}}
  },
  "layer": [
   {"data": {"name": "pts"}, "transform": [{"filter": "datum.p == 'control'"}], "mark": {"type": "circle", "size": 40, "opacity": 1}},
   {"data": {"name": "fits"}, "transform": [{"filter": "datum.p == 'control'"}], "mark": {"type": "line", "strokeWidth": 2.4}, "encoding": {"detail": {"field": "id"}}}
  ]
 }
]
}
